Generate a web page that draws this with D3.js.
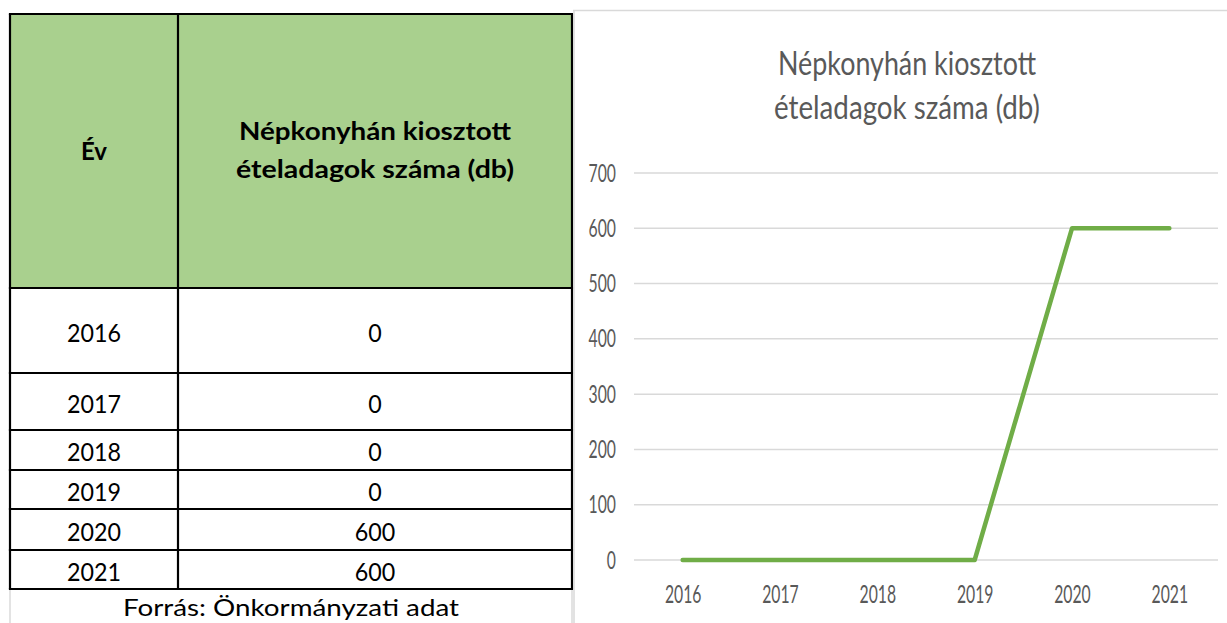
<!DOCTYPE html>
<html>
<head>
<meta charset="utf-8">
<script src="https://cdn.jsdelivr.net/npm/d3@7"></script>
<style>
  html, body { margin: 0; padding: 0; background: #fff; }
  svg { display: block; font-family: Lato, "Open Sans", sans-serif; }
</style>
</head>
<body>
<svg id="chart" width="1227" height="623"></svg>
<script>
// ---- data ----
const years = ["2016", "2017", "2018", "2019", "2020", "2021"];
const values = [0, 0, 0, 0, 600, 600];
const yTicks = [0, 100, 200, 300, 400, 500, 600, 700];
const titleLines = ["Népkonyhán kiosztott", "ételadagok száma (db)"];
const headerYear = "Év";
const headerValue = ["Népkonyhán kiosztott", "ételadagok száma (db)"];
const sourceText = "Forrás: Önkormányzati adat";

// ---- layout ----
const svg = d3.select("#chart");
const tbl = { left: 10, mid: 178, right: 572, top: 14, headBottom: 288 };
const rowEdges = [288, 373, 430, 470, 509, 550, 589];

// ---- table ----
const t = svg.append("g");
t.append("rect")
  .attr("x", tbl.left).attr("y", tbl.top)
  .attr("width", tbl.right - tbl.left).attr("height", tbl.headBottom - tbl.top)
  .attr("fill", "#a9d08e");

// footer grid lines (light)
[tbl.left, tbl.right].forEach(x => {
  t.append("line").attr("x1", x).attr("x2", x)
    .attr("y1", rowEdges[rowEdges.length - 1]).attr("y2", 623)
    .attr("stroke", "#d0d0d0").attr("stroke-width", 1.2);
});

// header text
t.append("text")
  .attr("x", (tbl.left + tbl.mid) / 2).attr("y", 160)
  .attr("text-anchor", "middle").attr("font-size", 24).attr("font-weight", 700)
  .attr("fill", "#000").text(headerYear);
const hvx = (tbl.mid + tbl.right) / 2;
const hvWidths = [272, 278];
headerValue.forEach((s, i) => {
  t.append("text")
    .attr("x", hvx).attr("y", 140 + i * 38)
    .attr("text-anchor", "middle").attr("font-size", 24).attr("font-weight", 700)
    .attr("textLength", hvWidths[i]).attr("lengthAdjust", "spacingAndGlyphs")
    .attr("fill", "#000").text(s);
});

// body rows
years.forEach((yr, i) => {
  const cy = (rowEdges[i] + rowEdges[i + 1]) / 2 + 2;
  t.append("text")
    .attr("x", (tbl.left + tbl.mid) / 2).attr("y", cy + 9)
    .attr("text-anchor", "middle").attr("font-size", 25)
    .attr("textLength", 54).attr("lengthAdjust", "spacingAndGlyphs")
    .attr("fill", "#000").text(yr);
  const v = String(values[i]);
  t.append("text")
    .attr("x", hvx).attr("y", cy + 9)
    .attr("text-anchor", "middle").attr("font-size", 25)
    .attr("textLength", v.length * 13.5).attr("lengthAdjust", "spacingAndGlyphs")
    .attr("fill", "#000").text(v);
});

// table borders
const bw = 2.2;
[tbl.top].concat(rowEdges).forEach(y => {
  t.append("line").attr("x1", tbl.left - bw / 2).attr("x2", tbl.right + bw / 2)
    .attr("y1", y).attr("y2", y).attr("stroke", "#000").attr("stroke-width", bw);
});
[tbl.left, tbl.mid, tbl.right].forEach(x => {
  t.append("line").attr("x1", x).attr("x2", x)
    .attr("y1", tbl.top).attr("y2", rowEdges[rowEdges.length - 1])
    .attr("stroke", "#000").attr("stroke-width", bw);
});

// source
t.append("text")
  .attr("x", (tbl.left + tbl.right) / 2).attr("y", 616)
  .attr("text-anchor", "middle").attr("font-size", 23)
  .attr("textLength", 336).attr("lengthAdjust", "spacingAndGlyphs")
  .attr("fill", "#000").text(sourceText);

// ---- chart ----
const c = svg.append("g");
// chart area border
c.append("line").attr("x1", 573).attr("x2", 1227).attr("y1", 10.5).attr("y2", 10.5)
  .attr("stroke", "#d9d9d9").attr("stroke-width", 1.5);
c.append("line").attr("x1", 574).attr("x2", 574).attr("y1", 10).attr("y2", 623)
  .attr("stroke", "#d9d9d9").attr("stroke-width", 1.5);

const plot = { left: 634, right: 1218, top: 173, bottom: 560 };
const x = d3.scalePoint().domain(years).range([plot.left, plot.right]).padding(0.5);
const y = d3.scaleLinear().domain([0, 700]).range([plot.bottom, plot.top]);

// title
const titleWidths = [258, 266];
titleLines.forEach((s, i) => {
  c.append("text")
    .attr("x", 907).attr("y", 75 + i * 44)
    .attr("text-anchor", "middle").attr("font-size", 33)
    .attr("textLength", titleWidths[i]).attr("lengthAdjust", "spacingAndGlyphs")
    .attr("fill", "#595959").text(s);
});

// gridlines
c.append("g").selectAll("line").data(yTicks).join("line")
  .attr("x1", plot.left).attr("x2", plot.right)
  .attr("y1", d => y(d)).attr("y2", d => y(d))
  .attr("stroke", "#d9d9d9").attr("stroke-width", 1.5);

const sx = 0.63;
// y axis
const ya = c.append("g").attr("transform", `translate(${plot.left},0)`)
  .call(d3.axisLeft(y).tickValues(yTicks).tickSize(0).tickPadding(18));
ya.select(".domain").remove();
ya.selectAll("text")
  .attr("font-size", 25).attr("font-family", "Lato, sans-serif").attr("fill", "#595959")
  .attr("x", -18 / sx).attr("transform", `scale(${sx},1)`);

// x axis
const xa = c.append("g").attr("transform", `translate(0,${plot.bottom})`)
  .call(d3.axisBottom(x).tickSize(0).tickPadding(25));
xa.select(".domain").remove();
xa.selectAll("text")
  .attr("font-size", 25).attr("font-family", "Lato, sans-serif").attr("fill", "#595959")
  .attr("transform", `scale(${sx},1)`);

// line
const line = d3.line().x((d, i) => x(years[i])).y(d => y(d));
c.append("path").datum(values)
  .attr("d", line)
  .attr("fill", "none").attr("stroke", "#70ad47").attr("stroke-width", 4.5)
  .attr("stroke-linecap", "round").attr("stroke-linejoin", "round");
</script>
</body>
</html>
